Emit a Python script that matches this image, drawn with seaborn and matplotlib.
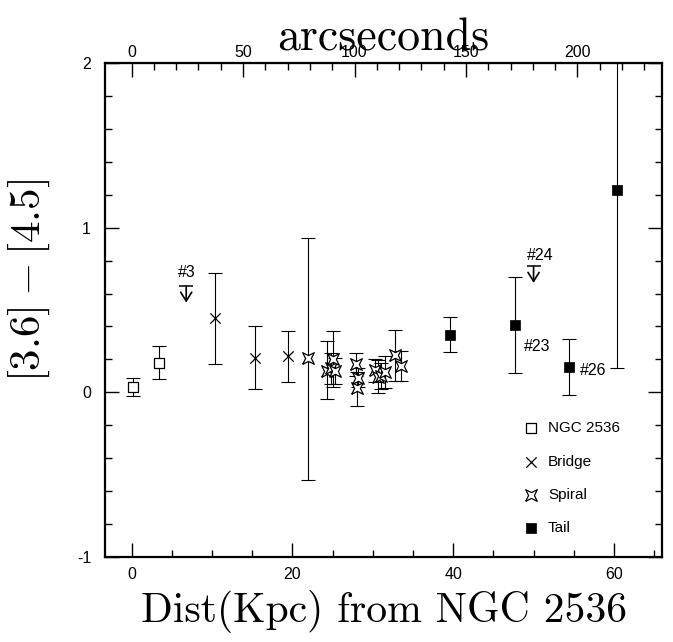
import numpy as np
import pandas as pd
import matplotlib
matplotlib.use("Agg")
import matplotlib.pyplot as plt
from matplotlib.ticker import MultipleLocator, FixedLocator
import seaborn as sns

# colour [3.6]-[4.5] vs distance from NGC 2536 (kpc)
ngc_dist = [0.2, 3.4]
ngc_col = [0.03, 0.18]
ngc_err = [0.055, 0.10]

bridge_dist = [10.4, 15.3, 19.5]
bridge_col = [0.45, 0.21, 0.22]
bridge_err = [0.275, 0.19, 0.155]

spiral_dist = [21.9, 24.3, 24.8, 25.1, 25.3, 27.9, 28.0, 28.2, 30.3, 30.6, 31.0, 31.5, 32.8, 33.5]
spiral_col = [0.21, 0.13, 0.15, 0.20, 0.13, 0.17, 0.025, 0.09, 0.135, 0.095, 0.10, 0.125, 0.225, 0.16]
spiral_err_lo = [0.74, 0.17, 0.10, 0.17, 0.08, 0.07, 0.11, 0.06, 0.07, 0.10, 0.08, 0.10, 0.155, 0.09]
spiral_err_hi = [0.73, 0.18, 0.09, 0.17, 0.08, 0.07, 0.10, 0.06, 0.07, 0.10, 0.08, 0.095, 0.155, 0.09]

tail_dist = [39.6, 47.7, 54.4, 60.4]
tail_col = [0.35, 0.41, 0.155, 1.23]
tail_err = [0.105, 0.29, 0.17, 1.08]

# upper limits (#3, #24)
limit_dist = [6.8, 50.0]
limit_top = [0.645, 0.765]
limit_tip = [0.545, 0.665]

note_text = ["#3", "#24", "#23", "#26"]
note_x = [6.9, 50.8, 50.4, 57.4]
note_y = [0.73, 0.83, 0.28, 0.135]

arcsec_ticks = [0, 50, 100, 150, 200]
arcsec_minor = list(range(0, 240, 10))

KPC_PER_ARCSEC = 0.2773

sns.set_style("ticks")
plt.rcParams["font.family"] = ["Liberation Sans", "DejaVu Sans"]
plt.rcParams["mathtext.fontset"] = "cm"
plt.rcParams["axes.unicode_minus"] = False
for k in ["text.color", "axes.labelcolor", "axes.edgecolor", "xtick.color", "ytick.color"]:
    plt.rcParams[k] = "black"

fig = plt.figure(figsize=(6.73, 6.42), dpi=100)
ax = fig.add_axes([0.156, 0.1324, 0.828, 0.7694])

eb = dict(fmt="none", ecolor="black", elinewidth=0.8, capsize=4.8, capthick=0.8, zorder=2)
ax.errorbar(ngc_dist, ngc_col, yerr=ngc_err, **eb)
ax.errorbar(bridge_dist, bridge_col, yerr=bridge_err, **eb)
ax.errorbar(spiral_dist, spiral_col, yerr=[spiral_err_lo, spiral_err_hi], **eb)
ax.errorbar(tail_dist, tail_col, yerr=tail_err, **eb)

star = [(-1, -1), (0, -0.5), (1, -1), (0.5, 0), (1, 1), (0, 0.5), (-1, 1), (-0.5, 0), (-1, -1)]

sns.scatterplot(x=ngc_dist, y=ngc_col, marker="s", s=60, facecolor="white",
                edgecolor="black", linewidth=0.9, label="NGC 2536", ax=ax, zorder=3)
sns.scatterplot(x=bridge_dist, y=bridge_col, marker="x", s=55, color="black",
                linewidth=0.9, label="Bridge", ax=ax, zorder=3)
sns.scatterplot(x=spiral_dist, y=spiral_col, marker=star, s=70, facecolor="white",
                edgecolor="black", linewidth=0.9, label="Spiral", ax=ax, zorder=3)
sns.scatterplot(x=tail_dist, y=tail_col, marker="s", s=55, color="black",
                edgecolor="black", linewidth=0.5, label="Tail", ax=ax, zorder=3)

# upper limit arrows
ax.scatter(limit_dist, limit_top, marker="_", s=90, color="black", linewidth=1.1)
for x, t, b in zip(limit_dist, limit_top, limit_tip):
    ax.annotate("", xy=(x, b), xytext=(x, t),
                arrowprops=dict(arrowstyle="->, head_length=0.4, head_width=0.25", lw=1.2,
                                color="black", mutation_scale=16, shrinkA=0, shrinkB=0))
for t, x, y in zip(note_text, note_x, note_y):
    ax.text(x, y, t, ha="center", va="center", fontsize=11.5)

ax.set_xlim(-3.3, 66)
ax.set_ylim(-1, 2)
ax.xaxis.set_major_locator(MultipleLocator(20))
ax.xaxis.set_minor_locator(MultipleLocator(5))
ax.yaxis.set_major_locator(MultipleLocator(1))
ax.yaxis.set_minor_locator(MultipleLocator(0.2))
ax.tick_params(which="both", direction="in", right=True, top=False, width=1.0, labelsize=11.5)
ax.tick_params(which="major", length=10)
ax.tick_params(which="minor", length=5)
ax.tick_params(axis="x", pad=7)
ax.tick_params(axis="y", pad=10)
for sp in ax.spines.values():
    sp.set_linewidth(1.6)

sec = ax.secondary_xaxis("top", functions=(lambda d: d / KPC_PER_ARCSEC, lambda a: a * KPC_PER_ARCSEC))
sec.xaxis.set_major_locator(FixedLocator(arcsec_ticks))
sec.xaxis.set_minor_locator(FixedLocator(arcsec_minor))
sec.tick_params(which="both", direction="in", width=1.0, labelsize=11.5, pad=2)
sec.tick_params(which="major", length=10)
sec.tick_params(which="minor", length=5)
sec.set_xlabel("arcseconds", fontfamily="cmr10", fontsize=33, labelpad=-4)

ax.set_xlabel("Dist(Kpc) from NGC 2536", fontfamily="cmr10", fontsize=30, labelpad=6)
ax.set_ylabel(r"$[3.6]-[4.5]$", fontsize=31)
ax.yaxis.set_label_coords(-0.095, 0.56)

ax.legend(loc="upper left", bbox_to_anchor=(0.74, 0.287), frameon=False, fontsize=11,
          handlelength=1.0, handletextpad=0.6, labelspacing=1.26, borderaxespad=0)

fig.savefig("out.png", dpi=100)
